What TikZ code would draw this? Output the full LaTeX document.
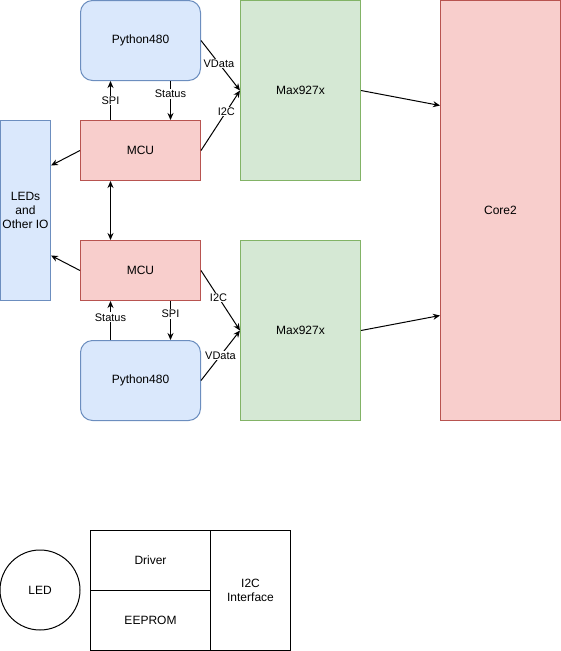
\documentclass[tikz,border=0pt]{standalone}
\usepackage{fontspec}
\setmainfont{Liberation Sans}
\usepackage{tikz}
\usetikzlibrary{arrows.meta,positioning,calc}
\definecolor{bFill}{HTML}{DAE8FC}
\definecolor{bLine}{HTML}{6C8EBF}
\definecolor{rFill}{HTML}{F8CECC}
\definecolor{rLine}{HTML}{B85450}
\definecolor{gFill}{HTML}{D5E8D4}
\definecolor{gLine}{HTML}{82B366}
\tikzset{
  box/.style={draw, line width=1pt, anchor=north west, inner sep=0pt, align=center, font=\fontsize{12}{14}\selectfont},
  pybox/.style={box, fill=bFill, draw=bLine, rounded corners=12pt, minimum width=120pt, minimum height=80pt},
  mcubox/.style={box, fill=rFill, draw=rLine, minimum width=120pt, minimum height=60pt},
  maxbox/.style={box, fill=gFill, draw=gLine, minimum width=120pt, minimum height=180pt},
  lbl/.style={fill=white, inner sep=1pt, font=\fontsize{11}{13}\selectfont},
  conn/.style={-{Stealth[length=7pt,width=6pt]}, line width=1pt}
}

\begin{document}
\begin{tikzpicture}[x=1pt,y=-1pt]
    \useasboundingbox (0,0) rectangle (561,651);
    % Left column
    \node[pybox] (py1) at (80,0) {Python480};
    \node[mcubox] (mcu1) at (80,120) {MCU};
    \node[mcubox] (mcu2) at (80,240) {MCU};
    \node[pybox] (py2) at (80,340) {Python480};
    \node[box, fill=bFill, draw=bLine, minimum width=50pt, minimum height=180pt] (leds) at (0,120) {LEDs\\and\\Other IO};
    % Max927x and Core2
    \node[maxbox] (max1) at (240,0) {Max927x};
    \node[maxbox] (max2) at (240,240) {Max927x};
    \node[box, fill=rFill, draw=rLine, minimum width=120pt, minimum height=420pt] (core) at (440,0) {Core2};
    % Top links
    \draw[conn] ([xshift=-30pt]mcu1.north) -- node[lbl] {SPI} ([xshift=-30pt]py1.south);
    \draw[conn] ([xshift=30pt]py1.south) -- node[lbl, pos=0.33] {Status} ([xshift=30pt]mcu1.north);
    \draw[conn] (py1.east) -- node[lbl, pos=0.46] {VData} (max1.west);
    \draw[conn] (mcu1.east) -- node[lbl, pos=0.65] {I2C} (max1.west);
    \draw[conn] (mcu1.west) -- ([yshift=45pt]leds.east);
    % MCU to MCU
    \draw[{Stealth[length=7pt,width=6pt]}-{Stealth[length=7pt,width=6pt]}, line width=1pt] ([xshift=-30pt]mcu1.south) -- ([xshift=-30pt]mcu2.north);
    % Bottom links
    \draw[conn] ([xshift=-30pt]py2.north) -- node[lbl, pos=0.58] {Status} ([xshift=-30pt]mcu2.south);
    \draw[conn] ([xshift=30pt]mcu2.south) -- node[lbl, pos=0.33] {SPI} ([xshift=30pt]py2.north);
    \draw[conn] (mcu2.east) -- node[lbl, pos=0.45] {I2C} (max2.west);
    \draw[conn] (py2.east) -- node[lbl, pos=0.5] {VData} (max2.west);
    \draw[conn] (mcu2.west) -- ([yshift=-45pt]leds.east);
    % To Core2
    \draw[conn] (max1.east) -- ([yshift=105pt]core.west);
    \draw[conn] (max2.east) -- ([yshift=-105pt]core.west);
    % Legend
    \node[box, circle, anchor=center, minimum size=80pt] (led) at (40,590) {LED};
    \node[box, minimum width=120pt, minimum height=60pt] (drv) at (90,530) {Driver};
    \node[box, minimum width=120pt, minimum height=60pt] (eeprom) at (90,590) {EEPROM};
    \node[box, minimum width=80pt, minimum height=120pt] (i2c) at (210,530) {I2C\\Interface};
\end{tikzpicture}
\end{document}
